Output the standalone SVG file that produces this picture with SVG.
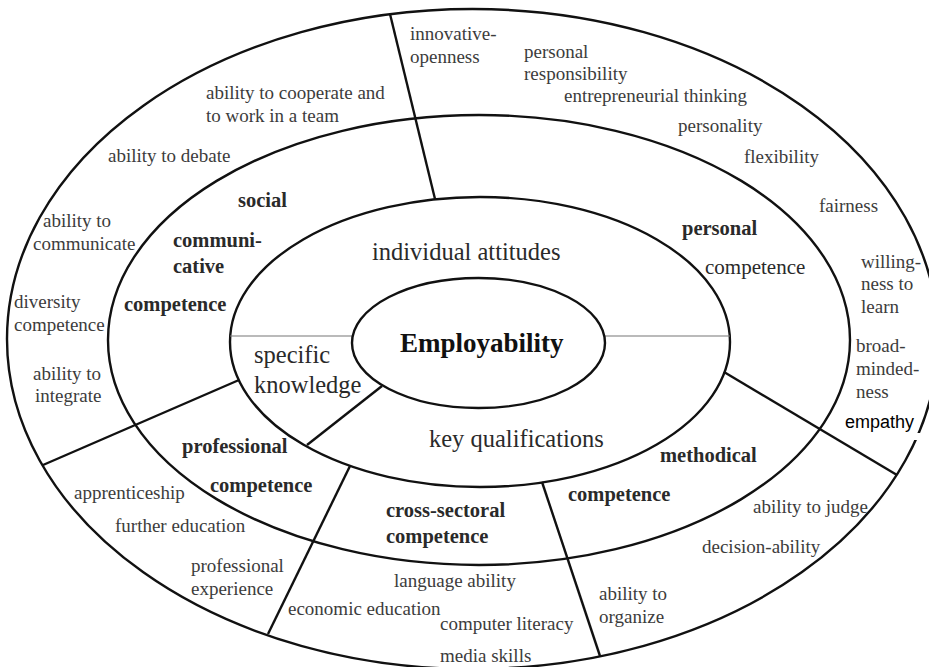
<svg xmlns="http://www.w3.org/2000/svg" width="929" height="667" viewBox="0 0 929 667">
<style>
.ring{fill:none;stroke:#111;stroke-width:2.4}
.div{stroke:#111;stroke-width:2.4;fill:none}
.thin{stroke:#777;stroke-width:1.2}
text{font-family:"Liberation Serif","Times New Roman",serif}
.o{font-size:19px;fill:#3c3c3c}
.m{font-size:20.5px;font-weight:bold;fill:#2a2a2a}
.mr{font-size:21px;fill:#2a2a2a}
.i{font-size:24.5px;fill:#2a2a2a}
.c{font-size:27px;font-weight:bold;fill:#111}
.s{font-family:"Liberation Sans",Arial,sans-serif;font-size:18px;fill:#000}
</style>
<rect width="929" height="667" fill="#fff"/>
<g id="rings">
<ellipse id="outer-ring" class="ring" cx="472.5" cy="339" rx="465.5" ry="330"/>
<ellipse id="middle-ring" class="ring" cx="479" cy="340" rx="371" ry="225"/>
<ellipse id="inner-ring" class="ring" cx="480" cy="342" rx="250" ry="145"/>
</g>
<rect x="905" y="433" width="22" height="7" fill="#fff"/>
<g id="connectors">
<line class="div" x1="390" y1="14" x2="435" y2="199"/>
<line class="div" x1="239" y1="380" x2="43" y2="465"/>
<line class="div" x1="382" y1="386" x2="307" y2="445"/>
<line class="div" x1="350" y1="466" x2="268" y2="634"/>
<line class="div" x1="542" y1="482" x2="600" y2="656"/>
<line class="div" x1="724" y1="372" x2="897" y2="475"/>
<line class="thin" x1="230" y1="336" x2="353" y2="336"/>
<line class="thin" x1="604" y1="336" x2="730" y2="336"/>
</g>
<g id="employability">
<ellipse class="ring" cx="478.5" cy="343" rx="126.5" ry="65" fill="#fff"/>
<text class="c" x="400" y="352">Employability</text>
</g>
<g id="individual-attitudes"><text class="i" x="372" y="260">individual attitudes</text></g>
<g id="specific-knowledge"><text class="i" x="254" y="363">specific</text><text class="i" x="254" y="393">knowledge</text></g>
<g id="key-qualifications"><text class="i" x="429" y="447">key qualifications</text></g>
<g id="social-competence">
<text class="m" x="238" y="207">social</text>
<text class="m" x="173" y="247">communi-</text>
<text class="m" x="173" y="273">cative</text>
<text class="m" x="124" y="311">competence</text>
</g>
<g id="personal-competence">
<text class="m" x="682" y="235">personal</text>
<text class="mr" x="705" y="274">competence</text>
</g>
<g id="professional-competence">
<text class="m" x="182" y="453">professional</text>
<text class="m" x="210" y="492">competence</text>
</g>
<g id="cross-sectoral-competence">
<text class="m" x="386" y="517">cross-sectoral</text>
<text class="m" x="386" y="543">competence</text>
</g>
<g id="methodical-competence">
<text class="m" x="660" y="462">methodical</text>
<text class="m" x="568" y="501">competence</text>
</g>
<g id="social-items">
<text class="o" x="206" y="99">ability to cooperate and</text>
<text class="o" x="206" y="122">to work in a team</text>
<text class="o" x="108" y="162">ability to debate</text>
<text class="o" x="43" y="227">ability to</text>
<text class="o" x="33" y="250">communicate</text>
<text class="o" x="14" y="308">diversity</text>
<text class="o" x="14" y="331">competence</text>
<text class="o" x="33" y="380">ability to</text>
<text class="o" x="35" y="402">integrate</text>
</g>
<g id="personal-items">
<text class="o" x="410" y="40">innovative-</text>
<text class="o" x="410" y="63">openness</text>
<text class="o" x="524" y="58">personal</text>
<text class="o" x="524" y="80">responsibility</text>
<text class="o" x="564" y="102">entrepreneurial thinking</text>
<text class="o" x="678" y="132">personality</text>
<text class="o" x="744" y="163">flexibility</text>
<text class="o" x="819" y="212">fairness</text>
<text class="o" x="861" y="268">willing-</text>
<text class="o" x="861" y="290">ness to</text>
<text class="o" x="861" y="313">learn</text>
<text class="o" x="856" y="352">broad-</text>
<text class="o" x="856" y="375">minded-</text>
<text class="o" x="856" y="398">ness</text>
<text class="s" x="845" y="428">empathy</text>
</g>
<g id="professional-items">
<text class="o" x="74" y="499">apprenticeship</text>
<text class="o" x="115" y="532">further education</text>
<text class="o" x="191" y="572">professional</text>
<text class="o" x="191" y="595">experience</text>
</g>
<g id="cross-sectoral-items">
<text class="o" x="394" y="587">language ability</text>
<text class="o" x="288" y="615">economic education</text>
<text class="o" x="440" y="630">computer literacy</text>
<text class="o" x="440" y="662">media skills</text>
</g>
<g id="methodical-items">
<text class="o" x="753" y="513">ability to judge</text>
<text class="o" x="702" y="553">decision-ability</text>
<text class="o" x="599" y="600">ability to</text>
<text class="o" x="599" y="623">organize</text>
</g>
</svg>
